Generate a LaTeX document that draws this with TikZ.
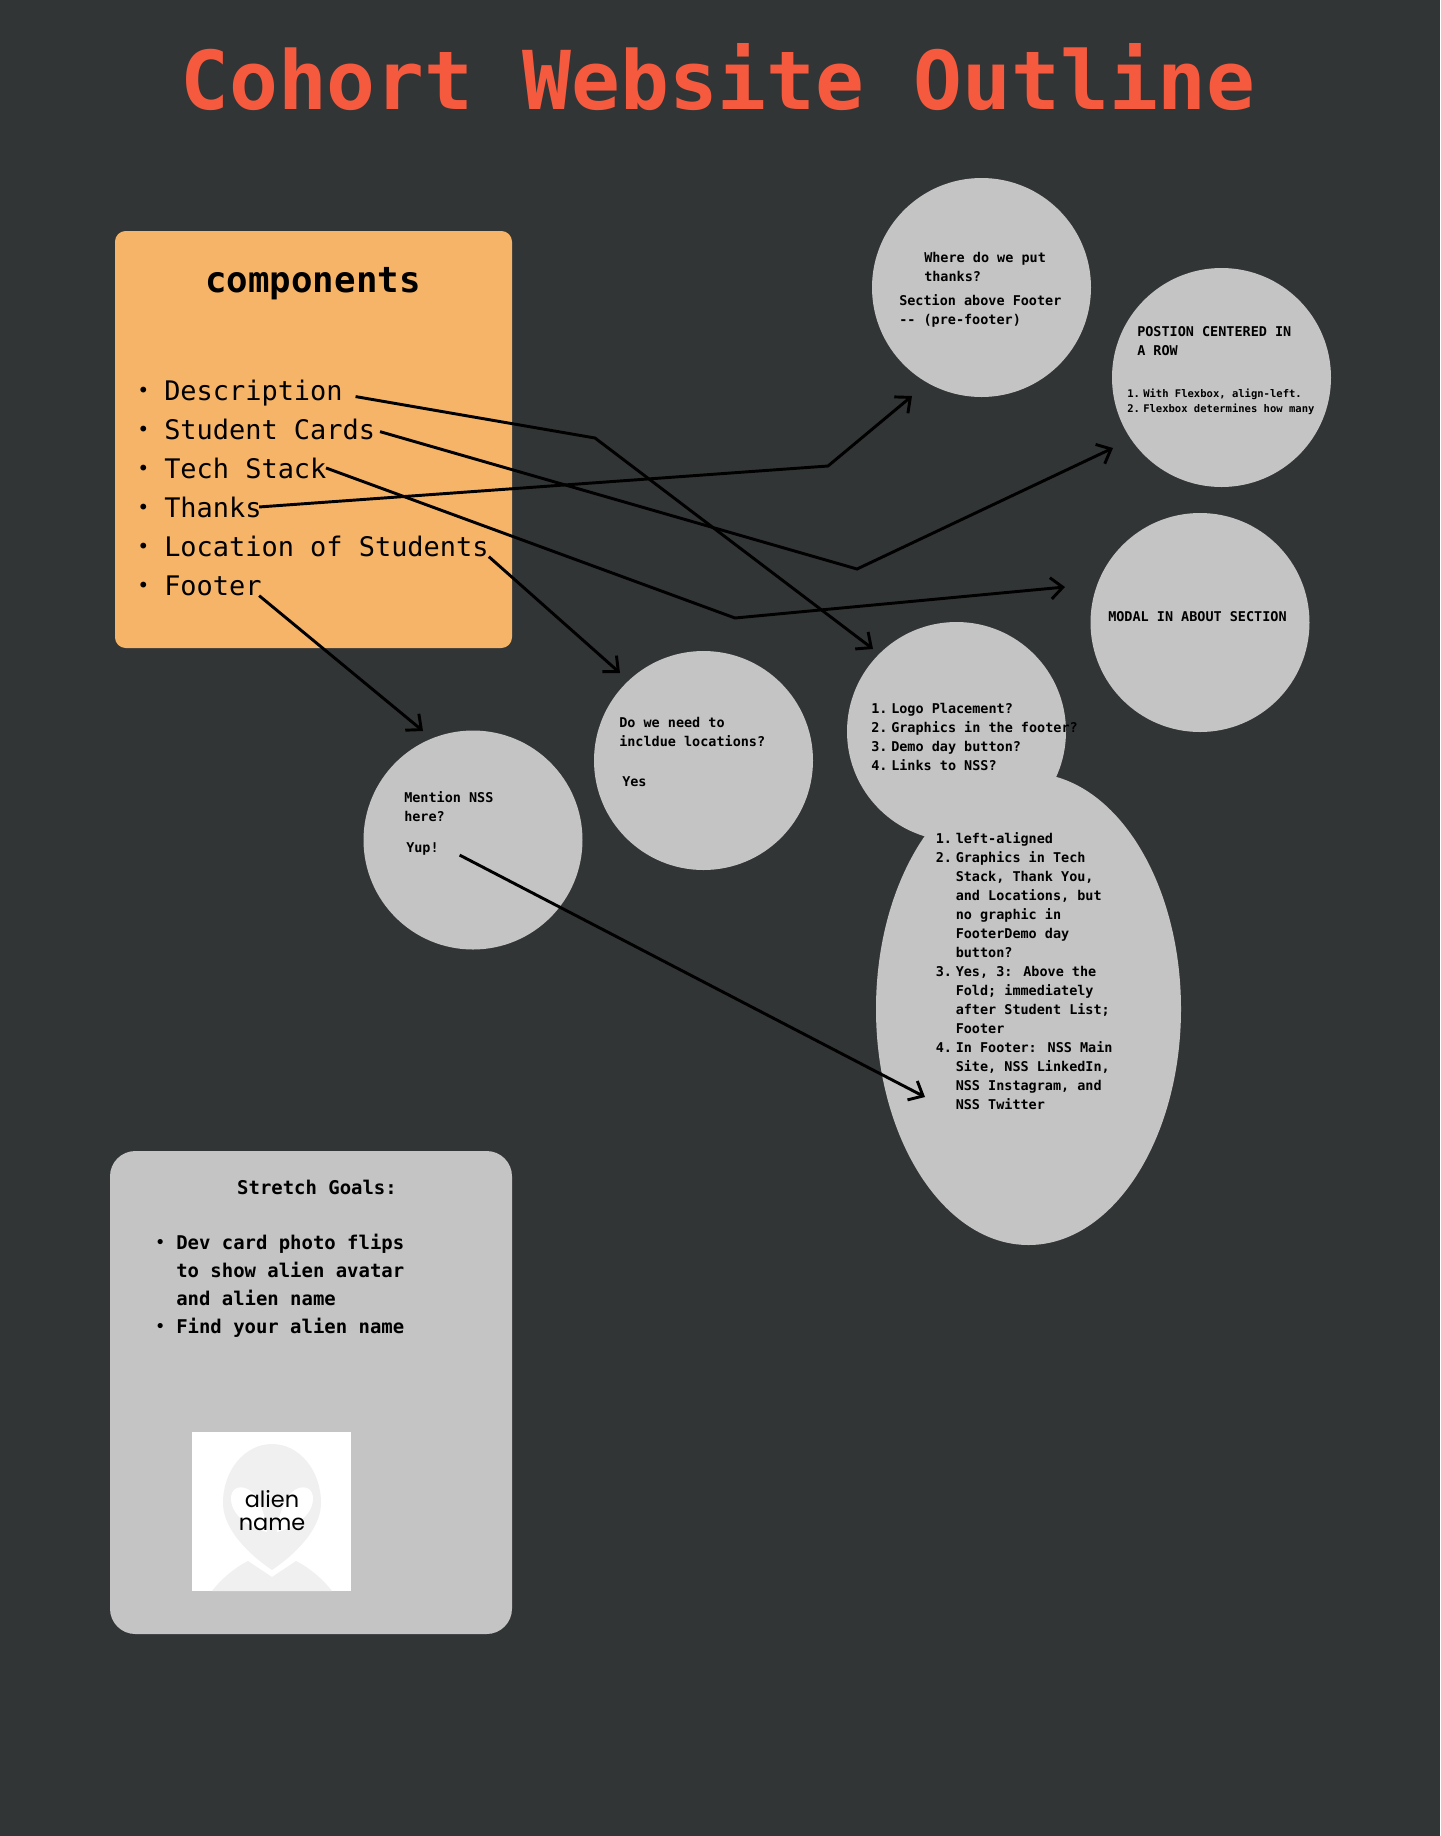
\documentclass[tikz,border=0pt]{standalone}
\usepackage{fontspec}
\usepackage{graphicx}
\setmainfont{DejaVu Sans Mono}
\newfontfamily\alienfont{Poppins}
\usetikzlibrary{shapes.geometric,arrows.meta}
\definecolor{slate}{HTML}{323536}
\definecolor{coral}{HTML}{F55A3F}
\definecolor{sand}{HTML}{F6B468}
\definecolor{ash}{HTML}{C4C4C4}
\definecolor{mist}{HTML}{F0F0F0}
\newcommand{\numcol}[1]{\makebox[15pt][l]{#1}}
\newcommand{\smallcol}[1]{\makebox[12pt][l]{#1}}
\newcommand{\bigdot}{\makebox[22.5pt][l]{\hspace{2.25pt}\raisebox{2pt}{\fontsize{15}{15}\selectfont •}}}
\newcommand{\stretchcol}[1]{\makebox[17.25pt][l]{#1}}
\newcommand{\minidot}{\hspace{2pt}\raisebox{1.1pt}{\fontsize{11}{11}\selectfont •}}
\tikzset{
  bubble/.style={circle, fill=ash, inner sep=0pt, minimum size=164.25pt},
  bubbletext/.style={anchor=base west, inner sep=0pt, align=left, text=black, font=\fontsize{10.1}{14.25}\selectfont\bfseries},
  smalltext/.style={bubbletext, font=\fontsize{7.9}{11.25}\selectfont\bfseries},
  itemtext/.style={anchor=base west, inner sep=0pt, text=black, font=\fontsize{20.2}{29}\selectfont},
  stretchtext/.style={bubbletext, font=\fontsize{14.2}{21}\selectfont\bfseries},
  flow/.style={draw=black, line width=2.2pt, line join=miter, -{Straight Barb[length=9pt,width=16pt,line width=2.2pt]}},
}

\begin{document}
\begin{tikzpicture}[x=0.75pt,y=-0.75pt]
  \useasboundingbox (0,0) rectangle (1440,1836);
  \fill[slate] (0,0) rectangle (1440,1836);
  \node[font=\fontsize{60.9}{70}\selectfont\bfseries, text=coral, anchor=base, inner sep=0pt] (title) at (718,109) {Cohort Website Outline};

  % components card
  \node[rectangle, rounded corners=8pt, fill=sand, minimum width=297.75pt, minimum height=312.75pt] (components) at (313.5,439.5) {};
  \node[font=\fontsize{26.8}{30}\selectfont\bfseries, anchor=base, inner sep=0pt] (compTitle) at (313,292) {components};
  \foreach \name/\ypos/\txt in {desc/400/Description, cards/439/Student Cards, stack/478/Tech Stack, thanks/517/Thanks, places/556/Location of Students, footer/595/Footer}
    \node[itemtext] (\name) at (134,\ypos) {\bigdot\txt};

  % question bubbles
  \node[bubble] (thanksB) at (981.5,287.5) {};
  \node[bubble] (rowB) at (1221.5,377.5) {};
  \node[bubble] (modalB) at (1200,622.5) {};
  \node[bubble] (logoB) at (956.5,731.5) {};
  \node[ellipse, fill=ash, inner sep=0pt, minimum width=228.75pt, minimum height=354pt] (answerB) at (1028.5,1009) {};
  \node[bubble] (placesB) at (703.5,760.5) {};
  \node[bubble] (footerB) at (473,840) {};

  % base of a multi-line node is its last line
  \node[bubbletext] (thanksQ) at (924,281) {Where do we put\\thanks?};
  \node[bubbletext] (thanksA) at (899,324.5) {Section above Footer\\{-}{-} (pre-footer)};
  \node[bubbletext] (rowQ) at (1137,355) {POSTION CENTERED IN\\A ROW};
  \node[smalltext] (rowA) at (1127,412) {\smallcol{1.}With Flexbox, align-left.\\\smallcol{2.}Flexbox determines how many};
  \node[bubbletext] (modalQ) at (1108,621) {MODAL IN ABOUT SECTION};
  \node[bubbletext] (logoQ) at (871,770) {\numcol{1.}Logo Placement?\\\numcol{2.}Graphics in the footer?\\\numcol{3.}Demo day button?\\\numcol{4.}Links to NSS?};
  \node[bubbletext] (answerA) at (935.5,1109) {\numcol{1.}left-aligned\\
    \numcol{2.}Graphics in Tech\\\numcol{}Stack, Thank You,\\\numcol{}and Locations, but\\\numcol{}no graphic in\\\numcol{}FooterDemo day\\\numcol{}button?\\
    \numcol{3.}Yes, 3: Above the\\\numcol{}Fold; immediately\\\numcol{}after Student List;\\\numcol{}Footer\\
    \numcol{4.}In Footer: NSS Main\\\numcol{}Site, NSS LinkedIn,\\\numcol{}NSS Instagram, and\\\numcol{}NSS Twitter};
  \node[bubbletext] (placesQ) at (619,746) {Do we need to\\incldue locations?};
  \node[bubbletext] (placesA) at (622,786) {Yes};
  \node[bubbletext] (footerQ) at (404,821) {Mention NSS\\here?};
  \node[bubbletext] (footerA) at (406,852) {Yup!};

  % stretch goals card
  \node[rectangle, rounded corners=19pt, fill=ash, minimum width=301.5pt, minimum height=362.25pt] (stretch) at (311,1392.5) {};
  \node[stretchtext, anchor=base] (stretchTitle) at (317,1194) {Stretch Goals:};
  \node[stretchtext] (stretchList) at (153,1333) {\stretchcol{\minidot}Dev card photo flips\\\stretchcol{}to show alien avatar\\\stretchcol{}and alien name\\\stretchcol{\minidot}Find your alien name};

  % avatar picture
  \node[rectangle, fill=white, minimum size=119.25pt, inner sep=0pt] (avatar) at (271.5,1511.5) {};
  \fill[mist] (272,1444) .. controls (245,1444) and (223,1470) .. (223,1503) .. controls (223,1530) and (250,1555) .. (272,1570) .. controls (294,1555) and (321,1530) .. (321,1503) .. controls (321,1470) and (299,1444) .. (272,1444);
  \fill[mist] (212,1591) .. controls (222,1578) and (236,1567) .. (248,1561) -- (272,1577) -- (296,1561) .. controls (308,1567) and (322,1578) .. (332,1591) -- cycle;
  \foreach \flip in {1,-1}
    \fill[white, shift={(272,0)}, xscale=\flip] (-41,1497) .. controls (-40,1484) and (-24,1484) .. (-16,1497) .. controls (-9,1508) and (-6,1520) .. (-5,1532) .. controls (-22,1528) and (-42,1515) .. (-41,1497);
  \node[font=\alienfont\fontsize{16.8}{17}\selectfont, anchor=base, inner sep=0pt] (alienA) at (272,1507) {alien};
  \node[font=\alienfont\fontsize{16.8}{17}\selectfont, anchor=base, inner sep=0pt] (alienB) at (272,1530) {name};

  % connectors
  \coordinate (kneeDesc) at (595,438);
  \coordinate (tipDesc) at (873,649);
  \coordinate (kneeCards) at (857,569);
  \coordinate (tipCards) at (1113,448);
  \coordinate (kneeStack) at (735,618);
  \coordinate (tipStack) at (1065,587);
  \coordinate (kneeThanks) at (828,466);
  \coordinate (tipThanks) at (912,396);
  \coordinate (tipPlaces) at (620,673);
  \coordinate (tipFooter) at (423,731);
  \coordinate (tipYup) at (925,1097);
  \draw[flow] ([xshift=9.5pt,yshift=-3pt]desc.east) -- (kneeDesc) -- (tipDesc);
  \draw[flow] ([xshift=3.5pt,yshift=-2pt]cards.east) -- (kneeCards) -- (tipCards);
  \draw[flow] ([xshift=-0.5pt]stack.east) -- (kneeStack) -- (tipStack);
  \draw[flow] ([xshift=-2pt]thanks.east) -- (kneeThanks) -- (tipThanks);
  \draw[flow] (places.south east) -- (tipPlaces);
  \draw[flow] ([xshift=-2pt]footer.south east) -- (tipFooter);
  \draw[flow] ([xshift=15.5pt,yshift=0pt]footerA.south east) -- (tipYup);
\end{tikzpicture}
\end{document}
